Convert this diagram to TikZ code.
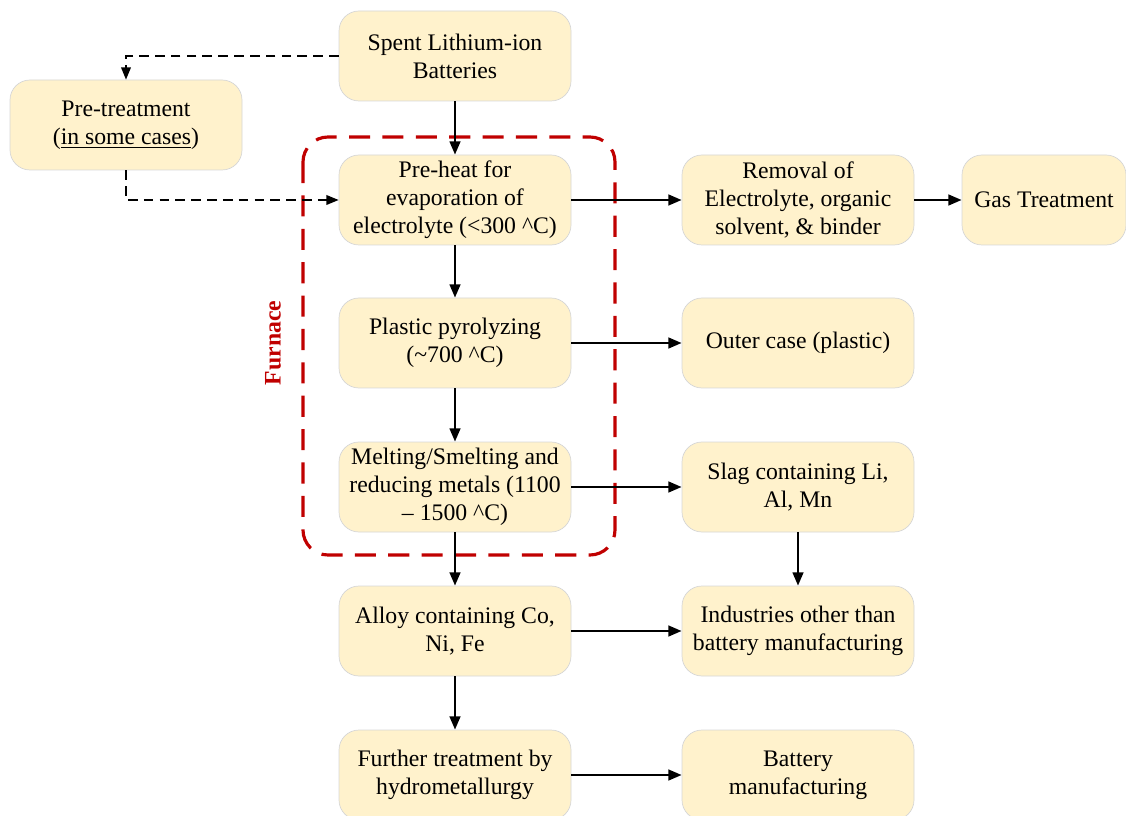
\documentclass[tikz,border=0pt]{standalone}
\usepackage{fontspec}
\setmainfont{Liberation Serif}
\usetikzlibrary{arrows.meta,positioning}

\definecolor{boxfill}{RGB}{255,242,204}
\definecolor{boxline}{RGB}{214,214,214}
\definecolor{furnacered}{RGB}{192,0,0}

\tikzset{
	stepbox/.style={draw=boxline, fill=boxfill, rounded corners=0.4cm, align=center,
		minimum width=4.64cm, minimum height=1.8cm, inner sep=0.1cm,
		font=\fontsize{13.5}{16}\selectfont},
	flow/.style={-{Triangle[length=7.5pt,width=6pt]}, line width=1.35pt},
	optflow/.style={-{Triangle[length=7pt,width=5.5pt]}, line width=0.9pt, dash pattern=on 5.5pt off 3.5pt},
	furnace/.style={draw=furnacered, line width=1.8pt, rounded corners=0.5cm, dash pattern=on 12pt off 7pt}
}

\begin{document}
\begin{tikzpicture}

	\useasboundingbox (0,0) rectangle (22.52,-16.32);

	% main column
	\node[stepbox] (spent)   at (9.10,-1.12)  {Spent Lithium-ion\\Batteries};
	\node[stepbox] (pre)     at (2.52,-2.50)  {Pre-treatment\\(\underline{in some cases})};
	\node[stepbox] (preheat) at (9.10,-4.00)  {Pre-heat for\\evaporation of\\electrolyte (<300 \^{}C)};
	\node[stepbox] (plastic) at (9.10,-6.86)  {Plastic pyrolyzing\\(\textasciitilde700 \^{}C)};
	\node[stepbox] (melt)    at (9.10,-9.74)  {Melting/Smelting and\\reducing metals (1100\\– 1500 \^{}C)};
	\node[stepbox] (alloy)   at (9.10,-12.62) {Alloy containing Co,\\Ni, Fe};
	\node[stepbox] (further) at (9.10,-15.50) {Further treatment by\\hydrometallurgy};

	% products
	\node[stepbox] (removal)  at (15.96,-4.00)  {Removal of\\Electrolyte, organic\\solvent, \& binder};
	\node[stepbox, minimum width=3.28cm] (gas) at (20.88,-4.00) {Gas Treatment};
	\node[stepbox] (outer)    at (15.96,-6.86)  {Outer case (plastic)};
	\node[stepbox] (slag)     at (15.96,-9.74)  {Slag containing Li,\\Al, Mn};
	\node[stepbox] (industry) at (15.96,-12.62) {Industries other than\\battery manufacturing};
	\node[stepbox] (battery)  at (15.96,-15.50) {Battery\\manufacturing};

	% furnace frame
	\draw[furnace] (6.06,-2.74) rectangle (12.30,-11.10);
	\node[rotate=90, text=furnacered, font=\fontsize{13.5}{16}\selectfont\bfseries] (furnacelabel) at (5.46,-6.86) {Furnace};

	% connectors
	\draw[flow] (spent) -- (preheat);
	\draw[flow] (preheat) -- (plastic);
	\draw[flow] (plastic) -- (melt);
	\draw[flow] (melt) -- (alloy);
	\draw[flow] (alloy) -- (further);
	\draw[optflow] (spent.west) -| (pre.north);
	\draw[optflow] (pre.south) |- (preheat.west);
	\draw[flow] (preheat) -- (removal);
	\draw[flow] (removal) -- (gas);
	\draw[flow] (plastic) -- (outer);
	\draw[flow] (melt) -- (slag);
	\draw[flow] (slag) -- (industry);
	\draw[flow] (alloy) -- (industry);
	\draw[flow] (further) -- (battery);

\end{tikzpicture}
\end{document}
